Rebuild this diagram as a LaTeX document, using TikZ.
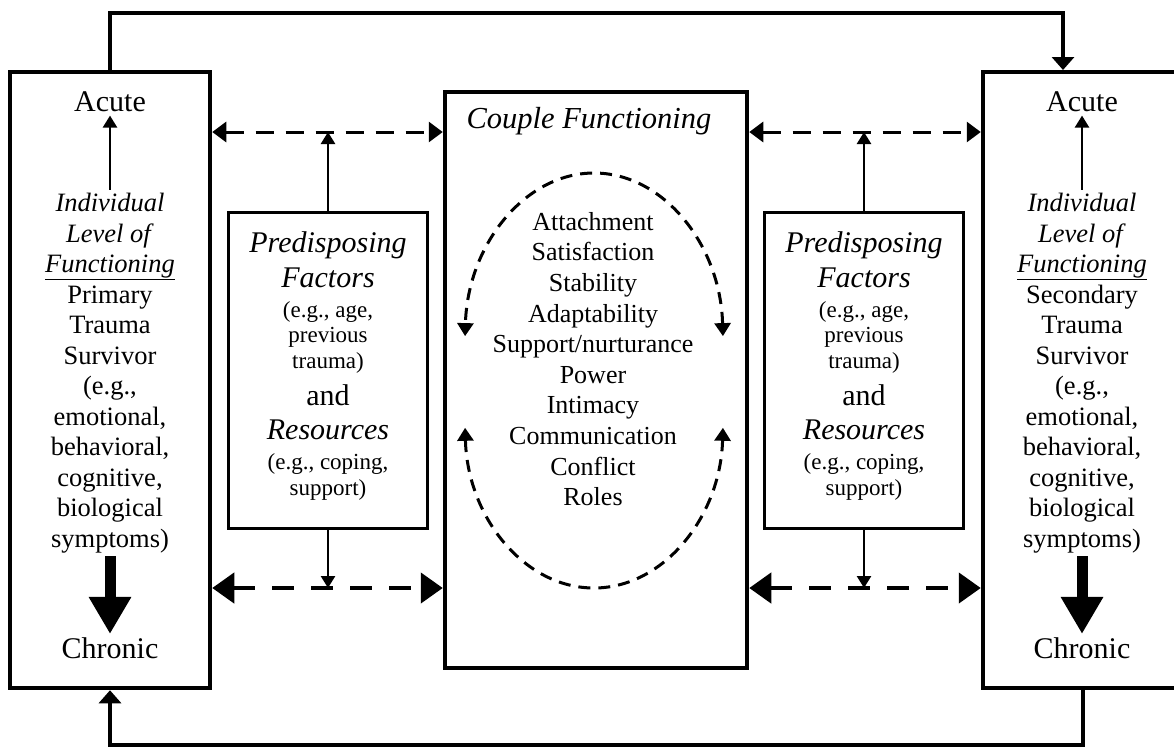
\documentclass[tikz,border=0pt]{standalone}
\usepackage{fontspec}
\setmainfont{Liberation Serif}
\usetikzlibrary{arrows.meta,positioning}

\newcommand{\fsz}[2]{\fontsize{#1}{#2}\selectfont}

\begin{document}
\begin{tikzpicture}[x=1pt,y=-1pt,
   box/.style={draw,line width=4.5pt,inner sep=0pt},
   link/.style={line width=3.5pt},
   thinarr/.style={line width=2.5pt,-{Triangle[width=14pt,length=12pt]}},
   bigarr/.style={line width=11pt,-{Triangle[width=40pt,length=37pt]}},
   dashtop/.style={line width=3pt,dash pattern=on 18pt off 12pt,
      {Triangle[width=20pt,length=14pt]}-{Triangle[width=20pt,length=14pt]}},
   dashbot/.style={line width=4.5pt,dash pattern=on 22pt off 17pt,
      {Triangle[width=30pt,length=22pt]}-{Triangle[width=30pt,length=22pt]}},
   loop/.style={line width=3pt,dash pattern=on 12pt off 8pt,
      {Triangle[width=16pt,length=13pt]}-{Triangle[width=16pt,length=13pt]}}]
   \clip (0,0) rectangle (1174,748);

   % the three big boxes
   \node[box,minimum width=200pt,minimum height=616pt] (lbox) at (110,380) {};
   \node[box,minimum width=220pt,minimum height=616pt] (rbox) at (1093,380) {};
   \node[box,minimum width=302pt,minimum height=576pt] (cbox) at (596,380) {};

   \coordinate (yt) at (0,132);
   \coordinate (yb) at (0,588);
   \coordinate (ytop) at (0,13);
   \coordinate (ybot) at (0,745);
   \coordinate (rtop) at (1063,70);
   \coordinate (rbot) at (1083,690);

   % feedback between the two survivors
   \draw[link,-{Triangle[width=22pt,length=13pt]}] (lbox.north) -- (lbox.north |- ytop) -| (rtop);
   \draw[link,-{Triangle[width=22pt,length=13pt]}] (rbot) -- (rbot |- ybot) -| (lbox.south);

   % individual level, left and right
   \node[font=\fsz{30}{36}] (lacute) at (110,102) {Acute};
   \node[font=\fsz{30}{36}] (lchron) at (110,648) {Chronic};
   \node[font=\fsz{26.5}{30.5},align=center] (ltext) at (110,373)
      {\textit{Individual}\\\textit{Level of}\\\underline{\textit{Functioning}}\\Primary\\Trauma\\Survivor\\(e.g.,\\emotional,\\behavioral,\\cognitive,\\biological\\symptoms)};
   \draw[thinarr] (ltext.north) -- (lacute.south);
   \draw[bigarr] (ltext.south) -- (lchron.north);

   \node[font=\fsz{30}{36}] (racute) at (1082,102) {Acute};
   \node[font=\fsz{30}{36}] (rchron) at (1082,648) {Chronic};
   \node[font=\fsz{26.5}{30.5},align=center] (rtext) at (1082,373)
      {\textit{Individual}\\\textit{Level of}\\\underline{\textit{Functioning}}\\Secondary\\Trauma\\Survivor\\(e.g.,\\emotional,\\behavioral,\\cognitive,\\biological\\symptoms)};
   \draw[thinarr] (rtext.north) -- (racute.south);
   \draw[bigarr] (rtext.south) -- (rchron.north);

   % predisposing factors and resources
   \foreach \nm/\px/\ca/\cb in {l/328/lbox/cbox, r/864/cbox/rbox}{
      \node[box,line width=3pt,minimum width=199pt,minimum height=316pt] (\nm pred) at (\px,370) {};
      \node[font=\fsz{30}{35}\itshape,align=center] (\nm fac) at (\px,260) {Predisposing\\Factors};
      \node[font=\fsz{23}{25.5},align=center] (\nm age) at (\px,337) {(e.g., age,\\previous\\trauma)};
      \node[font=\fsz{30}{35}] (\nm and) at (\px,395) {and};
      \node[font=\fsz{30}{35}\itshape] (\nm res) at (\px,430) {Resources};
      \node[font=\fsz{23}{25.5},align=center] (\nm cop) at (\px,477) {(e.g., coping,\\support)};
      \draw[dashtop] (\ca.east |- yt) -- (\cb.west |- yt);
      \draw[dashbot] (\ca.east |- yb) -- (\cb.west |- yb);
      \draw[thinarr] (\nm pred.north) -- (\nm pred.north |- yt);
      \draw[thinarr] (\nm pred.south) -- (\nm pred.south |- yb);
   }

   % couple functioning
   \node[font=\fsz{30.5}{34}\itshape] (ctitle) at (589,121) {Couple Functioning};
   \node[font=\fsz{26}{30.6},align=center] (clist) at (593,359)
      {Attachment\\Satisfaction\\Stability\\Adaptability\\Support/nurturance\\Power\\Intimacy\\Communication\\Conflict\\Roles};
   \coordinate (ctop) at (594,342);
   \coordinate (cbot) at (594,422);
   \draw[loop] ([shift={(-2:129 and 169)}]ctop) arc[start angle=-2,end angle=-178,x radius=129,y radius=169];
   \draw[loop] ([shift={(178:129 and 166)}]cbot) arc[start angle=178,end angle=2,x radius=129,y radius=166];
\end{tikzpicture}
\end{document}
